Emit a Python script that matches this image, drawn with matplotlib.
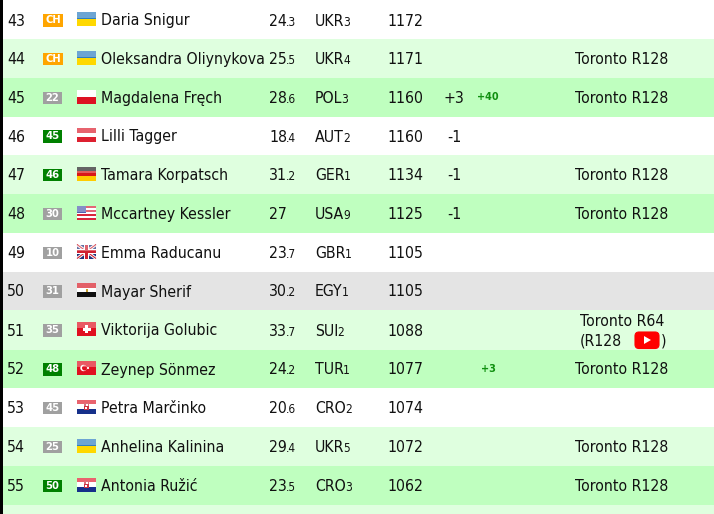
import matplotlib
matplotlib.use('Agg')
import matplotlib.pyplot as plt
from matplotlib.patches import Rectangle, FancyBboxPatch, Polygon, Circle

ranks = [43, 44, 45, 46, 47, 48, 49, 50, 51, 52, 53, 54, 55]
badges = ['CH', 'CH', '22', '45', '46', '30', '10', '31', '35', '48', '45', '25', '50']
badge_kind = ['o', 'o', 'g', 'w', 'w', 'g', 'g', 'g', 'g', 'w', 'g', 'g', 'w']
flags = ['UKR', 'UKR', 'POL', 'AUT', 'GER', 'USA', 'GBR', 'EGY', 'SUI', 'TUR', 'CRO', 'UKR', 'CRO']
names = ['Daria Snigur', 'Oleksandra Oliynykova', 'Magdalena Fręch', 'Lilli Tagger',
         'Tamara Korpatsch', 'Mccartney Kessler', 'Emma Raducanu', 'Mayar Sherif',
         'Viktorija Golubic', 'Zeynep Sönmez', 'Petra Marčinko', 'Anhelina Kalinina',
         'Antonia Ružić']
age_int = ['24', '25', '28', '18', '31', '27', '23', '30', '33', '24', '20', '29', '23']
age_dec = ['.3', '.5', '.6', '.4', '.2', '', '.7', '.2', '.7', '.2', '.6', '.4', '.5']
country_rank = ['3', '4', '3', '2', '1', '9', '1', '1', '2', '1', '2', '5', '3']
points = [1172, 1171, 1160, 1160, 1134, 1125, 1105, 1105, 1088, 1077, 1074, 1072, 1062]
moves = ['', '', '+3', '-1', '-1', '-1', '', '', '', '', '', '', '']
gains = ['', '', '+40', '', '', '', '', '', '', '+3', '', '', '']
events = ['', 'Toronto R128', 'Toronto R128', '', 'Toronto R128', 'Toronto R128', '', '',
          'Toronto R64', 'Toronto R128', '', 'Toronto R128', 'Toronto R128']
row_kind = ['w', 'l', 'm', 'w', 'l', 'm', 'w', 'x', 'l', 'm', 'w', 'l', 'm']

# layout, pixels
row_edges = [0, 39, 78, 117, 155, 194, 233, 272, 310, 350, 388, 427, 466, 505]
row_col = {'w': '#ffffff', 'l': '#dfffdf', 'm': '#bfffbf', 'x': '#e4e4e4'}
badge_col = {'o': '#ffa500', 'g': '#a0a0a0', 'w': '#008000'}
ink = '#111111'
fs = 11.3
small = 8.6

plt.rcParams['font.family'] = ['DejaVu Sans']
fig = plt.figure(figsize=(7.14, 5.14), dpi=100)
ax = fig.add_axes([0, 0, 1, 1])
ax.set_xlim(0, 714)
ax.set_ylim(514, 0)
ax.axis('off')
rend = fig.canvas.get_renderer()


def rect(x, y, w, h, c, alpha=1, z=3):
    ax.add_patch(Rectangle((x, y), w, h, fc=c, ec='none', alpha=alpha, zorder=z))


def label(x, y, s, size=fs, **kw):
    kw.setdefault('color', ink)
    kw.setdefault('va', 'baseline')
    kw.setdefault('stretch', 'condensed')
    return ax.text(x, y, s, fontsize=size, zorder=6, **kw)


def after(t):
    # right edge of a text in pixels, figure is 1:1 with the data
    return t.get_window_extent(rend).x1 - 1


def hstripes(x, y, cols):
    h = 14 / len(cols)
    for i, c in enumerate(cols):
        rect(x, y + i * h, 19, h + 0.1, c)


def draw_flag(code, x, y):
    if code == 'UKR':
        hstripes(x, y, ['#2f7fc0', '#ffd800'])
    elif code == 'POL':
        hstripes(x, y, ['#ffffff', '#dd1122'])
    elif code == 'AUT':
        hstripes(x, y, ['#dd2030', '#ffffff', '#dd2030'])
    elif code == 'GER':
        hstripes(x, y, ['#222222', '#d81818', '#ffcc00'])
    elif code == 'EGY':
        hstripes(x, y, ['#d81c28', '#ffffff', '#111111'])
        rect(x + 8.5, y + 5.5, 2, 3, '#c8a030', z=4)
    elif code == 'CRO':
        hstripes(x, y, ['#e02030', '#ffffff', '#16308a'])
        rect(x + 7, y + 3, 5, 7, '#cc3344', z=4)
        rect(x + 8.5, y + 4, 2, 2, '#ffffff', z=4)
        rect(x + 8, y + 7, 2, 2, '#ffffff', z=4)
    elif code == 'SUI':
        rect(x, y, 19, 14, '#e01020')
        rect(x + 8, y + 3, 3, 8, '#ffffff', z=4)
        rect(x + 5.5, y + 5.5, 8, 3, '#ffffff', z=4)
    elif code == 'TUR':
        rect(x, y, 19, 14, '#e01020')
        ax.add_patch(Circle((x + 6.5, y + 7), 3.2, fc='#ffffff', ec='none', zorder=4))
        ax.add_patch(Circle((x + 7.5, y + 7), 2.5, fc='#e01020', ec='none', zorder=4))
        ax.add_patch(Circle((x + 11, y + 7), 1.1, fc='#ffffff', ec='none', zorder=4))
    elif code == 'USA':
        hstripes(x, y, ['#d8283c', '#ffffff'] * 3 + ['#d8283c'])
        rect(x, y, 9, 7.5, '#5060b0', z=4)
    elif code == 'GBR':
        rect(x, y, 19, 14, '#20307a')
        for y0, y1 in [(y, y + 14), (y + 14, y)]:
            ax.plot([x, x + 19], [y0, y1], color='#ffffff', lw=2.2, zorder=4, solid_capstyle='butt')
            ax.plot([x, x + 19], [y0, y1], color='#d02030', lw=0.8, zorder=4, solid_capstyle='butt')
        rect(x + 7, y, 5, 14, '#ffffff', z=4)
        rect(x, y + 4.5, 19, 5, '#ffffff', z=4)
        rect(x + 8, y, 3, 14, '#d02030', z=5)
        rect(x, y + 5.5, 19, 3, '#d02030', z=5)
    # glossy top half
    rect(x, y, 19, 6, '#ffffff', alpha=0.3, z=5)


ax.barh([(row_edges[i] + row_edges[i + 1]) / 2 for i in range(13)],
        [714] * 13,
        height=[row_edges[i + 1] - row_edges[i] for i in range(13)],
        color=[row_col[k] for k in row_kind], zorder=1)
rect(0, 505, 714, 9, row_col['l'], z=1)
rect(0, 0, 3, 514, '#000000', z=7)

for i in range(13):
    cy = (row_edges[i] + row_edges[i + 1]) / 2
    if i == 0:
        cy = 20
    base = cy + 5.5

    label(7, base, str(ranks[i]))
    w = 20 if badges[i] == 'CH' else 19
    rect(43, cy - 6, w, 12.5, badge_col[badge_kind[i]])
    ax.text(43 + w / 2, cy + 0.3, badges[i], color='#ffffff', fontsize=7.2, fontweight='bold',
            ha='center', va='center', zorder=6)
    draw_flag(flags[i], 77, cy - 8)
    label(101, base, names[i])

    t = label(269, base, age_int[i])
    if age_dec[i]:
        label(after(t), base, age_dec[i], size=small)
    t = label(315, base, flags[i])
    label(after(t), base, country_rank[i], size=small)
    label(387, base, str(points[i]))
    if moves[i]:
        label(454, base, moves[i], ha='center')
    if gains[i]:
        label(488, cy + 3, gains[i], size=7, color='#109010', fontweight='bold', ha='center',
              stretch='normal')
    if events[i] and i != 8:
        label(622, base, events[i], ha='center')

# the two line cell of row 51
label(622, 325.5, events[8], ha='center')
label(580, 345.5, '(R128')
ax.add_patch(FancyBboxPatch((635, 332), 24, 16.5, boxstyle='round,pad=0,rounding_size=4',
                            fc='#ff0000', ec='#ff0000', lw=0.8, zorder=6))
ax.add_patch(Polygon([(644, 336), (651, 340), (644, 344)], fc='#ffffff', ec='none', zorder=7))
label(661, 345.5, ')')

fig.savefig('out.png', dpi=100)
